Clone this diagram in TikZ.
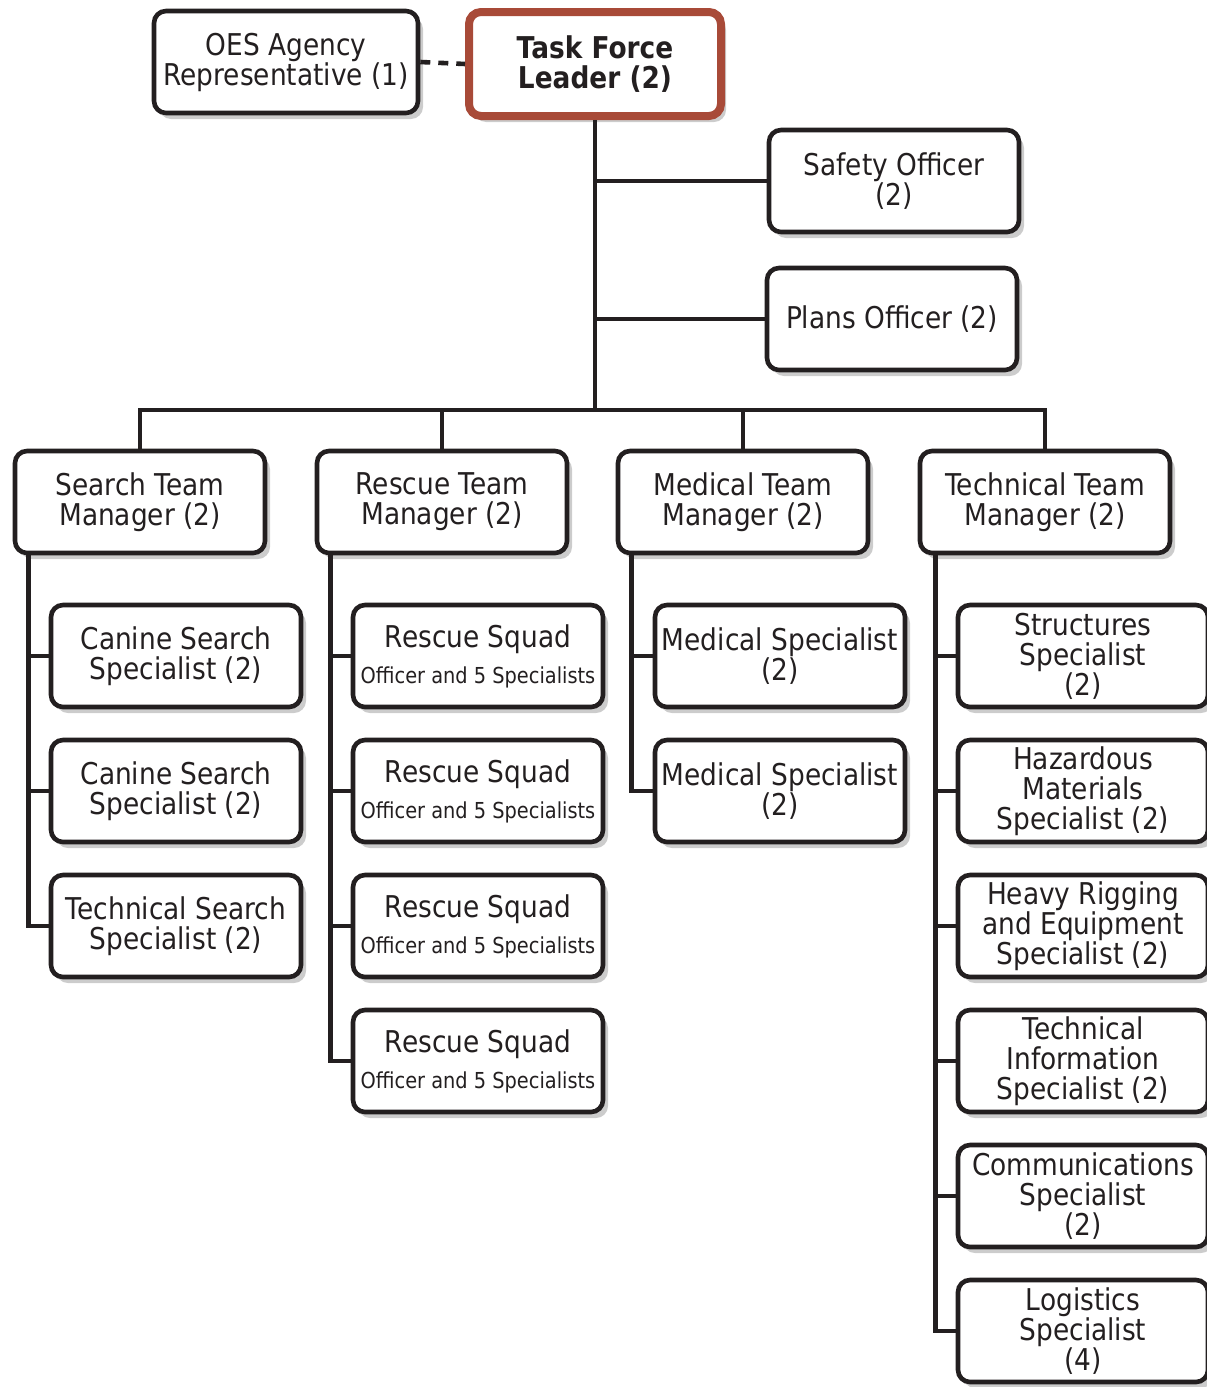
\documentclass[tikz,border=0pt]{standalone}
\usepackage{fontspec}
\setmainfont{DejaVu Sans}[FakeStretch=0.88]
\usetikzlibrary{shadows}
\definecolor{ink}{RGB}{35,31,32}
\definecolor{rust}{RGB}{168,74,56}
\begin{document}
\begin{tikzpicture}[x=0.5pt,y=-0.5pt]
\tikzstyle{box}=[draw=ink, line width=2.3pt, rounded corners=6pt, fill=white, text=ink, align=center, minimum width=125pt, minimum height=51pt, inner sep=0pt, font=\fontsize{15}{15}\selectfont, drop shadow={shadow xshift=2.5pt, shadow yshift=-3pt, opacity=.4}]
\tikzstyle{lead}=[box, draw=rust, line width=4pt, minimum width=126pt, minimum height=52pt, font=\bfseries\fontsize{15}{15}\selectfont]
\tikzstyle{wire}=[draw=ink, line width=2.3pt]
\useasboundingbox (0,0) rectangle (1206,1387);
% top
\node[lead] (leader) at (595,64) {Task Force\\Leader (2)};
\node[box, minimum width=132pt] (oes) at (286,62) {OES Agency\\Representative (1)};
\node[box] (safety) at (894,181) {Safety Officer\\(2)};
\node[box] (plans) at (892,319) {Plans Officer (2)};
% managers
\node[box] (search) at (140,502) {Search Team\\Manager (2)};
\node[box] (rescue) at (442,502) {Rescue Team\\Manager (2)};
\node[box] (medical) at (743,502) {Medical Team\\Manager (2)};
\node[box] (tech) at (1045,502) {Technical Team\\Manager (2)};
% search
\node[box] (canineA) at (176,656) {Canine Search\\Specialist (2)};
\node[box] (canineB) at (176,791) {Canine Search\\Specialist (2)};
\node[box] (techsearch) at (176,926) {Technical Search\\Specialist (2)};
% rescue
\node[box] (squadA) at (478,656) {Rescue Squad\\[3pt]{\fontsize{11}{12}\selectfont Officer and 5 Specialists}};
\node[box] (squadB) at (478,791) {Rescue Squad\\[3pt]{\fontsize{11}{12}\selectfont Officer and 5 Specialists}};
\node[box] (squadC) at (478,926) {Rescue Squad\\[3pt]{\fontsize{11}{12}\selectfont Officer and 5 Specialists}};
\node[box] (squadD) at (478,1061) {Rescue Squad\\[3pt]{\fontsize{11}{12}\selectfont Officer and 5 Specialists}};
% medical
\node[box] (medA) at (780,656) {Medical Specialist\\(2)};
\node[box] (medB) at (780,791) {Medical Specialist\\(2)};
% technical
\node[box] (struct) at (1083,656) {Structures\\Specialist\\(2)};
\node[box] (hazmat) at (1083,791) {Hazardous\\Materials\\Specialist (2)};
\node[box] (rigging) at (1083,926) {Heavy Rigging\\and Equipment\\Specialist (2)};
\node[box] (techinfo) at (1083,1061) {Technical\\Information\\Specialist (2)};
\node[box] (comms) at (1083,1196) {Communications\\Specialist\\(2)};
\node[box] (logist) at (1083,1331) {Logistics\\Specialist\\(4)};
% connectors
\coordinate (bus) at (595,410);
\draw[wire, dash pattern=on 5pt off 4pt] (oes.east) -- (leader.west);
\draw[wire] (leader.south) -- (bus);
\draw[wire] (safety.west) -- (safety.west -| leader.south);
\draw[wire] (plans.west) -- (plans.west -| leader.south);
\draw[wire] (search.north) |- (bus) -| (tech.north);
\draw[wire] (rescue.north) -- (rescue.north |- bus);
\draw[wire] (medical.north) -- (medical.north |- bus);
\draw[wire] ([xshift=8pt]search.south west) |- (canineA.west);
\draw[wire] ([xshift=8pt]search.south west) |- (canineB.west);
\draw[wire] ([xshift=8pt]search.south west) |- (techsearch.west);
\draw[wire] ([xshift=8pt]rescue.south west) |- (squadA.west);
\draw[wire] ([xshift=8pt]rescue.south west) |- (squadB.west);
\draw[wire] ([xshift=8pt]rescue.south west) |- (squadC.west);
\draw[wire] ([xshift=8pt]rescue.south west) |- (squadD.west);
\draw[wire] ([xshift=8pt]medical.south west) |- (medA.west);
\draw[wire] ([xshift=8pt]medical.south west) |- (medB.west);
\draw[wire] ([xshift=9pt]tech.south west) |- (struct.west);
\draw[wire] ([xshift=9pt]tech.south west) |- (hazmat.west);
\draw[wire] ([xshift=9pt]tech.south west) |- (rigging.west);
\draw[wire] ([xshift=9pt]tech.south west) |- (techinfo.west);
\draw[wire] ([xshift=9pt]tech.south west) |- (comms.west);
\draw[wire] ([xshift=9pt]tech.south west) |- (logist.west);
\end{tikzpicture}
\end{document}
